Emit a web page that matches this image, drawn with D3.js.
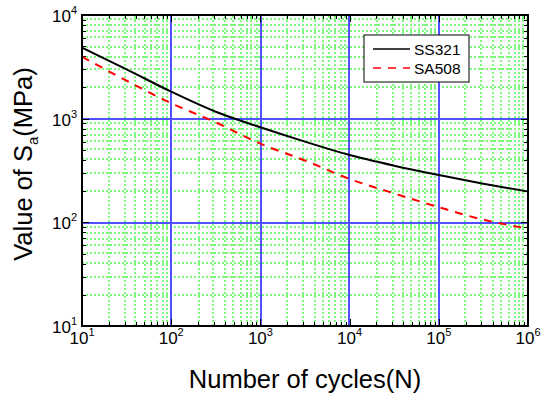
<!DOCTYPE html>
<html>
<head>
<meta charset="utf-8">
<script src="https://cdn.jsdelivr.net/npm/d3@7/dist/d3.min.js"></script>
<style>
  body { margin: 0; background: #fff; }
  svg { display: block; font-family: "Liberation Sans", Arial, sans-serif; }
</style>
</head>
<body>
<div id="chart"></div>
<script>
// number of cycles (N) and stress amplitude Sa (MPa)
const cycles = [10, 31.6, 100, 316, 1000, 3162, 10000, 31623, 100000, 316228, 1000000];
const ss321 = [4840, 2990, 1820, 1166, 826, 600, 446, 352, 286, 236, 198];
const sa508 = [3965, 2325, 1410, 920, 574, 395, 262, 190, 140, 106, 87];
const seriesNames = ["SS321", "SA508"];
const xExponents = [1, 2, 3, 4, 5, 6];
const yExponents = [1, 2, 3, 4];

const width = 542, height = 396;
const margin = { top: 15, right: 14, bottom: 70, left: 82 };

const svg = d3.select("#chart").append("svg")
    .attr("width", width)
    .attr("height", height);

const x = d3.scaleLog().domain([10, 1e6]).range([margin.left, width - margin.right]);
const y = d3.scaleLog().domain([10, 1e4]).range([height - margin.bottom, margin.top]);

let x0 = x.range()[0], x1 = x.range()[1],
    y0 = y.range()[0], y1 = y.range()[1];

// grid lines drawn 2px wide on even pixel pairs
let px2 = v => 2 * Math.round((v - 1) / 2) + 1;
let px = v => Math.round(v) + 0.5;

// minor values for grid / ticks
function minors(domain) {
    let out = [];
    for (let e = Math.log10(domain[0]); e < Math.log10(domain[1]); e++) {
        for (let k = 2; k <= 9; k++) out.push(k * Math.pow(10, e));
    }
    return out;
}
let xMinor = minors(x.domain()), yMinor = minors(y.domain());
let xMajorInner = xExponents.slice(1, -1).map(e => Math.pow(10, e));
let yMajorInner = yExponents.slice(1, -1).map(e => Math.pow(10, e));

let grid = svg.append("g");

grid.selectAll(".gxm").data(xMinor).enter().append("line")
    .attr("x1", d => px2(x(d))).attr("x2", d => px2(x(d)))
    .attr("y1", y0).attr("y2", y1)
    .attr("stroke", "#7ff87f").attr("stroke-width", 2)
    .attr("stroke-dasharray", "2,2");

grid.selectAll(".gym").data(yMinor).enter().append("line")
    .attr("x1", x0).attr("x2", x1)
    .attr("y1", d => px2(y(d))).attr("y2", d => px2(y(d)))
    .attr("stroke", "#7ff87f").attr("stroke-width", 2)
    .attr("stroke-dasharray", "2,2");

grid.selectAll(".gxM").data(xMajorInner).enter().append("line")
    .attr("x1", d => px2(x(d))).attr("x2", d => px2(x(d)))
    .attr("y1", y0).attr("y2", y1)
    .attr("stroke", "#5050ff").attr("stroke-width", 2);

grid.selectAll(".gyM").data(yMajorInner).enter().append("line")
    .attr("x1", x0).attr("x2", x1)
    .attr("y1", d => px2(y(d))).attr("y2", d => px2(y(d)))
    .attr("stroke", "#5050ff").attr("stroke-width", 2);

// inward ticks on all four sides
function tickMarks(g, vals, len) {
    g.selectAll(null).data(vals).enter().append("line")
        .attr("x1", d => px(x(d))).attr("x2", d => px(x(d)))
        .attr("y1", y0).attr("y2", y0 - len)
        .attr("stroke", "#000").attr("stroke-width", 1);
    g.selectAll(null).data(vals).enter().append("line")
        .attr("x1", d => px(x(d))).attr("x2", d => px(x(d)))
        .attr("y1", y1).attr("y2", y1 + len)
        .attr("stroke", "#000").attr("stroke-width", 1);
}
function yTickMarks(g, vals, len) {
    g.selectAll(null).data(vals).enter().append("line")
        .attr("x1", x0).attr("x2", x0 + len)
        .attr("y1", d => px(y(d))).attr("y2", d => px(y(d)))
        .attr("stroke", "#000").attr("stroke-width", 1);
    g.selectAll(null).data(vals).enter().append("line")
        .attr("x1", x1).attr("x2", x1 - len)
        .attr("y1", d => px(y(d))).attr("y2", d => px(y(d)))
        .attr("stroke", "#000").attr("stroke-width", 1);
}
let ticks = svg.append("g");
tickMarks(ticks, xMinor, 4);
tickMarks(ticks, xExponents.map(e => Math.pow(10, e)), 7);
yTickMarks(ticks, yMinor, 4);
yTickMarks(ticks, yExponents.map(e => Math.pow(10, e)), 7);

// series lines
svg.append("clipPath").attr("id", "clip")
    .append("rect").attr("x", x0).attr("y", y1).attr("width", x1 - x0).attr("height", y0 - y1);

let line = d3.line()
    .x((d, i) => x(cycles[i]))
    .y(d => y(d))
    .curve(d3.curveMonotoneX);

let plot = svg.append("g").attr("clip-path", "url(#clip)");
plot.append("path").datum(ss321)
    .attr("d", line)
    .attr("fill", "none").attr("stroke", "#000").attr("stroke-width", 2);
plot.append("path").datum(sa508)
    .attr("d", line)
    .attr("fill", "none").attr("stroke", "#ff0000").attr("stroke-width", 2)
    .attr("stroke-dasharray", "8,7");

// frame
svg.append("rect")
    .attr("x", x0).attr("y", y1)
    .attr("width", x1 - x0).attr("height", y0 - y1)
    .attr("fill", "none").attr("stroke", "#000").attr("stroke-width", 2);

// tick labels
let xl = svg.append("g").selectAll("text").data(xExponents).enter().append("text")
    .attr("x", d => x(Math.pow(10, d)))
    .attr("y", y0 + 18)
    .attr("text-anchor", "middle")
    .attr("font-size", 17);
xl.append("tspan").text("10");
xl.append("tspan").attr("font-size", 11).attr("dy", -8).text(d => d);

let yl = svg.append("g").selectAll("text").data(yExponents).enter().append("text")
    .attr("x", x0 - 5)
    .attr("y", d => y(Math.pow(10, d)) + 7)
    .attr("text-anchor", "end")
    .attr("font-size", 17);
yl.append("tspan").text("10");
yl.append("tspan").attr("font-size", 11).attr("dy", -8).text(d => d);

// axis titles
svg.append("text")
    .attr("x", (x0 + x1) / 2)
    .attr("y", 388)
    .attr("text-anchor", "middle")
    .attr("font-size", 25.5)
    .text("Number of cycles(N)");

let yt = svg.append("text")
    .attr("transform", "translate(32," + 164 + ") rotate(-90)")
    .attr("text-anchor", "middle")
    .attr("font-size", 25.5);
yt.append("tspan").text("Value of S");
yt.append("tspan").attr("font-size", 15).attr("dy", 6).text("a");
yt.append("tspan").attr("dy", -6).text("(MPa)");

// legend
let legend = svg.append("g");
legend.append("rect")
    .attr("x", 364).attr("y", 35).attr("width", 105).attr("height", 47)
    .attr("fill", "#fff").attr("stroke", "#000").attr("stroke-width", 1);
let styles = [{ c: "#000", dash: null }, { c: "#ff0000", dash: "8,7" }];
seriesNames.forEach((name, i) => {
    let ly = 49 + i * 19;
    legend.append("line")
        .attr("x1", 373).attr("x2", 410).attr("y1", ly).attr("y2", ly)
        .attr("stroke", styles[i].c).attr("stroke-width", 1.5)
        .attr("stroke-dasharray", styles[i].dash);
    legend.append("text")
        .attr("x", 414).attr("y", ly + 5.5)
        .attr("font-size", 15.5)
        .text(name);
});
</script>
</body>
</html>
